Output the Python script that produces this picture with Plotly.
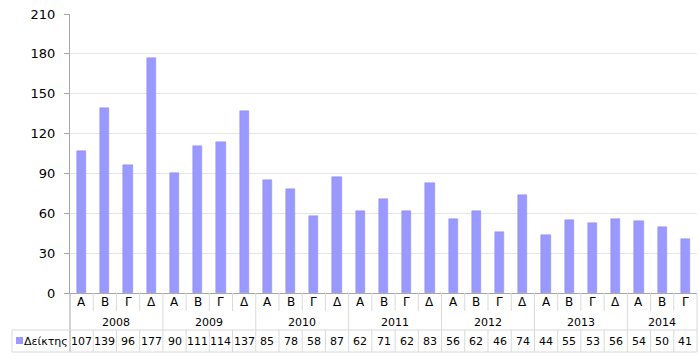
import plotly.graph_objects as go

years = ["2008", "2009", "2010", "2011", "2012", "2013", "2014"]
quarter_labels = ["Α", "Β", "Γ", "Δ"] * 6 + ["Α", "Β", "Γ"]
quarters_per_year = [4, 4, 4, 4, 4, 4, 3]
values = [107, 139, 96, 177, 90, 111, 114, 137, 85, 78, 58, 87,
          62, 71, 62, 83, 56, 62, 46, 74, 44, 55, 53, 56, 54, 50, 41]
series_name = "Δείκτης"

BAR = "#9999FF"
GRID = "#e4e4e4"
TBL = "#d9d9d9"
AX = "#a6a6a6"
FONT = "DejaVu Sans"

n = len(values)
xs = list(range(n))

fig = go.Figure()
fig.add_trace(go.Bar(x=xs, y=values, width=0.4, marker=dict(color=BAR, line=dict(color="#8c8cf5", width=0.5)),
                     name=series_name, showlegend=False, hoverinfo="y"))

W, H = 700, 356
ml, mr, mt, mb = 70, 3, 14, 63
pw = W - ml - mr

def px_to_paper_x(px):
    return (px - ml) / pw

shapes = []
annotations = []

def vline(xp, y0, y1, color=TBL):
    shapes.append(dict(type="line", xref="paper", yref="paper", ysizemode="pixel", yanchor=0,
                       x0=xp, x1=xp, y0=y0, y1=y1, line=dict(color=color, width=1)))

def hline(xp0, xp1, ypx, color=TBL):
    shapes.append(dict(type="line", xref="paper", yref="paper", ysizemode="pixel", yanchor=0,
                       x0=xp0, x1=xp1, y0=ypx, y1=ypx, line=dict(color=color, width=1)))

year_starts = []
s = 0
for q in quarters_per_year:
    year_starts.append(s)
    s += q
for i in range(1, n):
    if i in year_starts:
        vline(i / n, 0, -37)
    else:
        vline(i / n, 0, -18)
vline(0, 0, -59, AX)
vline(1, 0, -59)
left_tbl = px_to_paper_x(12)
hline(left_tbl, 1, -37)
hline(left_tbl, 1, -59)
vline(left_tbl, -37, -59)
for i in range(1, n):
    vline(i / n, -37, -59)

shapes.append(dict(type="rect", xref="paper", yref="paper", xsizemode="pixel", ysizemode="pixel",
                   xanchor=0, yanchor=0, x0=16 - ml, x1=23 - ml, y0=-44, y1=-51,
                   fillcolor=BAR, line=dict(width=0)))

for i in range(n):
    annotations.append(dict(x=i, xref="x", y=0, yref="paper", yshift=-9, text=quarter_labels[i],
                            showarrow=False, font=dict(family=FONT, size=12, color="#000"),
                            xanchor="center", yanchor="middle"))
    annotations.append(dict(x=i, xref="x", y=0, yref="paper", yshift=-48, text=str(values[i]),
                            showarrow=False, font=dict(family=FONT, size=11, color="#000"),
                            xanchor="center", yanchor="middle"))
for yname, st, q in zip(years, year_starts, quarters_per_year):
    annotations.append(dict(x=(st + (q - 1) / 2), xref="x", y=0, yref="paper", yshift=-29, text=yname,
                            showarrow=False, font=dict(family=FONT, size=11, color="#000"),
                            xanchor="center", yanchor="middle"))
annotations.append(dict(x=px_to_paper_x(22), xref="paper", y=0, yref="paper", yshift=-48,
                        text=series_name, showarrow=False,
                        font=dict(family=FONT, size=11, color="#000"),
                        xanchor="left", yanchor="middle"))

fig.update_layout(
    width=W, height=H,
    margin=dict(l=ml, r=mr, t=mt, b=mb),
    paper_bgcolor="white", plot_bgcolor="white",
    font=dict(family=FONT, size=12, color="#000"),
    shapes=shapes, annotations=annotations,
    bargap=0,
    xaxis=dict(range=[-0.5, n - 0.5], showticklabels=False, showgrid=False, zeroline=False,
               showline=True, linecolor=AX, linewidth=1, ticks="", fixedrange=True),
    yaxis=dict(range=[0, 210], dtick=30, tick0=0, showgrid=True, gridcolor=GRID, gridwidth=1,
               zeroline=False, showline=True, linecolor=AX, linewidth=1, ticks="outside",
               ticklen=5, tickcolor=AX, tickfont=dict(family=FONT, size=13, color="#000"),
               ticklabelstandoff=6, fixedrange=True),
)

fig.write_html("out.html", config={"displayModeBar": False},
               post_script="document.body.style.margin='0';document.body.style.overflow='hidden';")
